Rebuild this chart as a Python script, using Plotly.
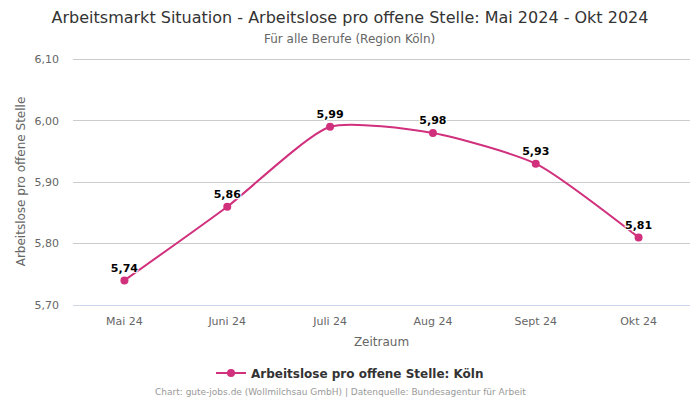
import plotly.graph_objects as go

categories = ["Mai 24", "Juni 24", "Juli 24", "Aug 24", "Sept 24", "Okt 24"]
values = [5.74, 5.86, 5.99, 5.98, 5.93, 5.81]
labels = ["5,74", "5,86", "5,99", "5,98", "5,93", "5,81"]
y_ticks = [5.70, 5.80, 5.90, 6.00, 6.10]
y_tick_labels = ["5,70", "5,80", "5,90", "6,00", "6,10"]

FONT = "DejaVu Sans"
COLOR = "#d1307d"

fig = go.Figure()
fig.add_trace(go.Scatter(
    x=categories, y=values, text=labels,
    mode="lines+markers+text",
    name="Arbeitslose pro offene Stelle: Köln",
    line=dict(color=COLOR, width=2, shape="spline", smoothing=0.6),
    marker=dict(color=COLOR, size=8),
    textposition="top center",
    textfont=dict(family=FONT, size=11, color="#000000", weight="bold",
                  shadow="1px 1px 1px #fff, -1px -1px 1px #fff, 1px -1px 1px #fff, -1px 1px 1px #fff"),
    cliponaxis=False,
    hoverinfo="x+y",
))

fig.update_layout(
    width=700, height=400,
    margin=dict(l=73, r=10, t=58, b=95, autoexpand=False),
    paper_bgcolor="#ffffff", plot_bgcolor="#ffffff",
    font=dict(family=FONT, color="#666666", size=11),
    title=dict(
        text="Arbeitsmarkt Situation - Arbeitslose pro offene Stelle: Mai 2024 - Okt 2024",
        x=0.5, xanchor="center", xref="container", y=1 - 17 / 400, yanchor="middle", yref="container",
        font=dict(family=FONT, size=16, color="#333333"),
    ),
    xaxis=dict(
        type="category", range=[-0.5, 5.5],
        showgrid=False, showline=True, linecolor="#ccd6eb", linewidth=1, zeroline=False,
        ticks="", tickfont=dict(size=11, color="#666666"), ticklabelstandoff=6,
        title=dict(text="Zeitraum", font=dict(size=12, color="#666666"), standoff=10),
    ),
    yaxis=dict(
        range=[5.70, 6.102], tickvals=y_ticks, ticktext=y_tick_labels,
        showgrid=True, gridcolor="#cccccc", gridwidth=1, zeroline=False, showline=False,
        tickfont=dict(size=11, color="#666666"), ticklabelstandoff=13,
        title=dict(text="Arbeitslose pro offene Stelle", font=dict(size=12, color="#666666"), standoff=6),
    ),
    legend=dict(
        orientation="h", x=(350 - 73) / 617, xanchor="center", y=-68 / 247, yanchor="middle",
        font=dict(family=FONT, size=12, color="#333333", weight="bold"),
        itemwidth=30,
    ),
    showlegend=True,
    annotations=[
        dict(text="Für alle Berufe (Region Köln)", xref="paper", yref="paper",
             x=(349 - 73) / 617, y=1.0, yshift=19, showarrow=False, xanchor="center", yanchor="middle",
             font=dict(family=FONT, size=12, color="#666666")),
        dict(text="Chart: gute-jobs.de (Wollmilchsau GmbH) | Datenquelle: Bundesagentur für Arbeit",
             xref="paper", yref="paper", x=(340 - 73) / 617, y=0, yshift=-87, showarrow=False,
             xanchor="center", yanchor="middle",
             font=dict(family=FONT, size=9, color="#999999")),
    ],
)

fig.write_html("out.html", config={"displayModeBar": False},
               post_script="document.body.style.margin='0';")
